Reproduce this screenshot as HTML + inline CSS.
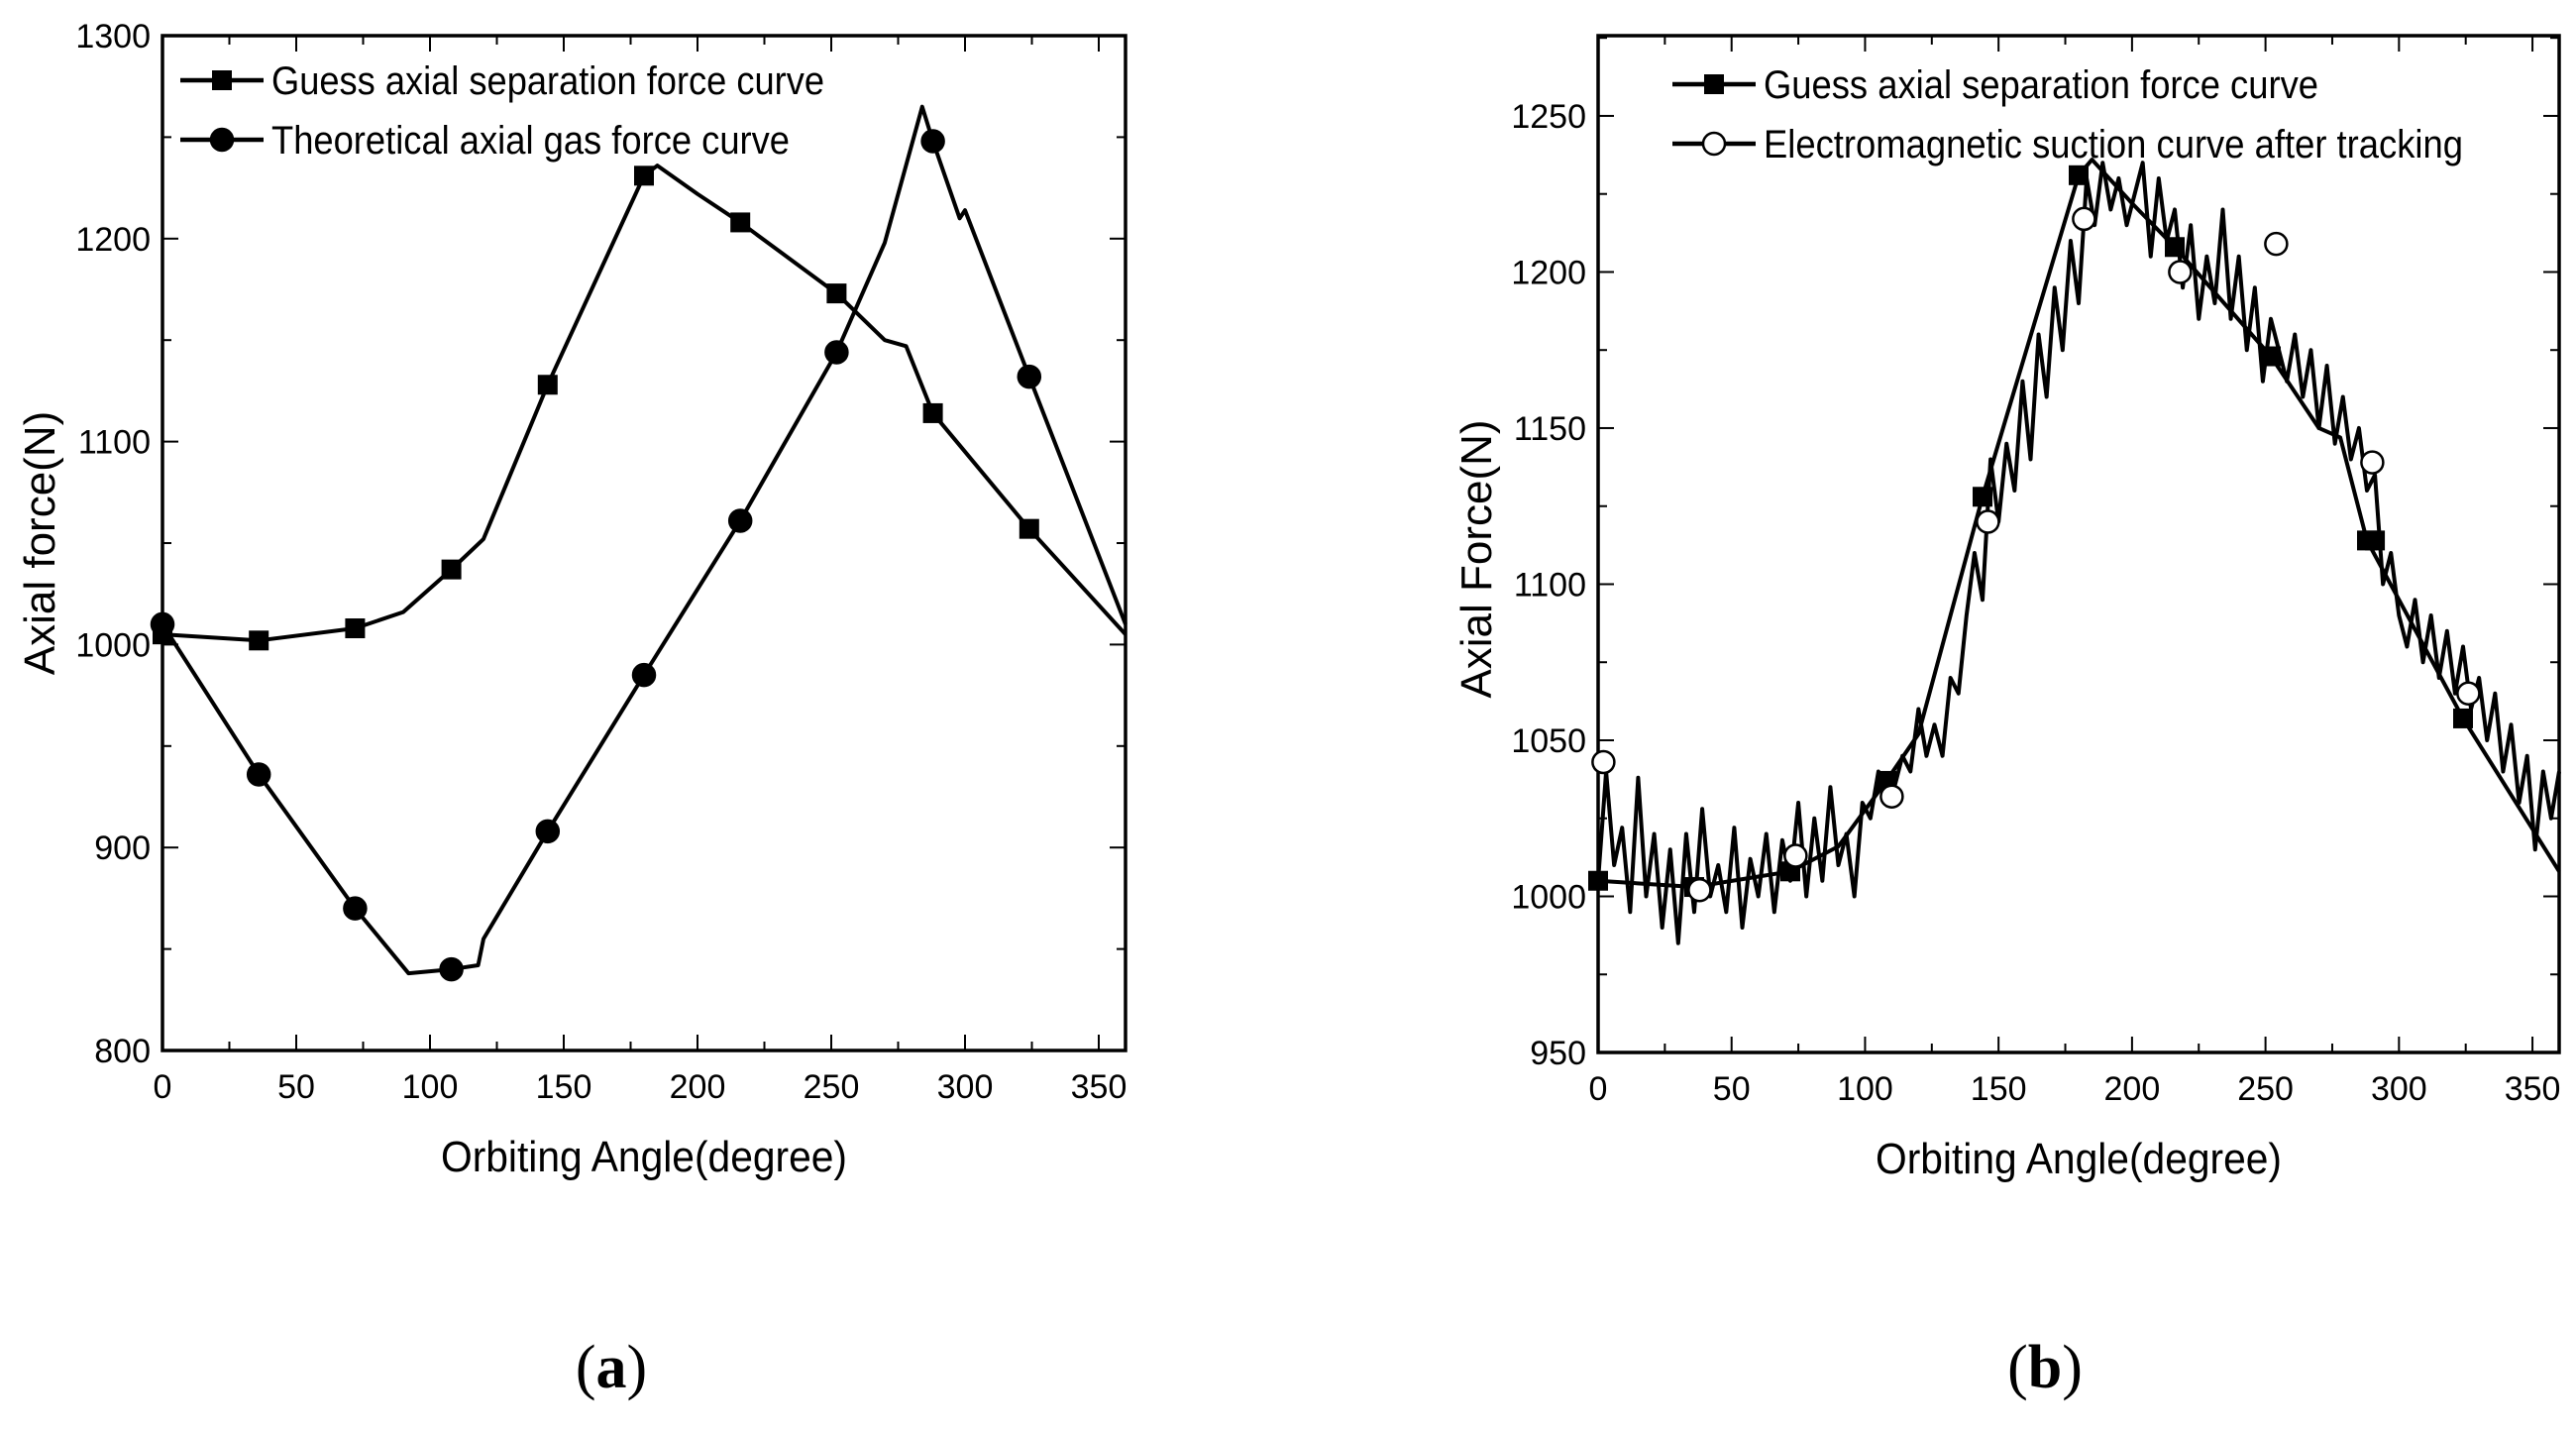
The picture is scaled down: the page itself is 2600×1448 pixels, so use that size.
<!DOCTYPE html>
<html><head><meta charset="utf-8"><style>
html,body{margin:0;padding:0;background:#fff;}
svg{display:block;font-family:"Liberation Sans",Arial,sans-serif;}
</style></head><body>
<svg id="s" width="2600" height="1448" viewBox="0 0 2600 1448"></svg>
<script>
// Panel (a) data
const aGuessX=[0,36,72,90,108,120,144,180,185,200,216,252,270,278,288,300,324,360];
const aGuessY=[1005,1002,1008,1016,1037,1052,1128,1231,1236,1222,1208,1173,1150,1147,1114,1095,1057,1005];
const aGuessMX=[0,36,72,108,144,180,216,252,288,324];
const aGuessMY=[1005,1002,1008,1037,1128,1231,1208,1173,1114,1057];
const aGasX=[0,36,72,92,108,118,120,144,180,216,252,270,284,288,298,300,324,360];
const aGasY=[1010,936,870,838,840,842,855,908,985,1061,1144,1198,1265,1248,1210,1214,1132,1010];
const aGasMX=[0,36,72,108,144,180,216,252,288,324];
const aGasMY=[1010,936,870,840,908,985,1061,1144,1248,1132];
// Panel (b) data
const bGuessX=[0,36,72,90,108,120,144,180,185,200,216,252,270,278,288,300,324,360];
const bGuessY=[1005,1003,1008,1016,1037,1052,1128,1231,1236,1222,1208,1173,1150,1147,1114,1095,1057,1008];
const bGuessMX=[0,36,72,108,144,180,216,252,288,291,324];
const bGuessMY=[1005,1003,1008,1037,1128,1231,1208,1173,1114,1114,1057];
const bNoisyY=[1005,1040,1010,1022,995,1038,1000,1020,990,1015,985,1020,995,1028,1000,1010,995,1022,990,1012,1000,1020,995,1018,1005,1030,1000,1025,1005,1035,1010,1020,1000,1030,1025,1040,1030,1035,1045,1040,1060,1045,1055,1045,1070,1065,1090,1110,1095,1140,1120,1145,1130,1165,1140,1180,1160,1195,1175,1210,1190,1230,1215,1235,1220,1230,1215,1225,1235,1205,1230,1210,1220,1195,1215,1185,1205,1190,1220,1185,1205,1175,1195,1165,1185,1175,1165,1180,1160,1175,1150,1170,1145,1160,1140,1150,1130,1135,1100,1110,1090,1080,1095,1075,1090,1070,1085,1065,1080,1060,1070,1050,1065,1040,1055,1030,1045,1015,1040,1025,1040];
const bNoisyStep=3;
const bCircX=[2,38,74,110,146,182,218,254,290,326];
const bCircY=[1043,1002,1013,1032,1120,1217,1200,1209,1139,1065];

const svg=document.getElementById('s');
const NS='http://www.w3.org/2000/svg';
function mk(tag,attrs,parent){const e=document.createElementNS(NS,tag);for(const k in attrs)e.setAttribute(k,attrs[k]);(parent||svg).appendChild(e);return e;}

function panel(o){
  const g=mk('g',{});
  
  
  const X=v=>o.x0+(v-0)/360*(o.x1-o.x0);
  const Y=v=>o.yb+(v-o.ymin)/(o.ymax-o.ymin)*(o.yt-o.yb);
  const fr=mk('rect',{x:o.x0,y:o.yt,width:o.x1-o.x0,height:o.yb-o.yt,fill:'none',stroke:'#000','stroke-width':3.5},g);
  
  
  for(let v=0;v<=360;v+=25){const L=(v%50===0)?16:9;
    mk('line',{x1:X(v),x2:X(v),y1:o.yb,y2:o.yb-L,stroke:'#000','stroke-width':2},g);
    mk('line',{x1:X(v),x2:X(v),y1:o.yt,y2:o.yt+L,stroke:'#000','stroke-width':2},g);
    if(v%50===0){const t=mk('text',{x:X(v),y:o.yb+48,'text-anchor':'middle','font-size':34},g);t.textContent=v;
      
      }
  }
  for(let v=o.ymin;v<=o.ymaxTick;v+=o.minor){const maj=((v-o.ymin)%o.major===0);const L=maj?16:9;
    mk('line',{x1:o.x0,x2:o.x0+L,y1:Y(v),y2:Y(v),stroke:'#000','stroke-width':2},g);
    mk('line',{x1:o.x1,x2:o.x1-L,y1:Y(v),y2:Y(v),stroke:'#000','stroke-width':2},g);
    if(maj){const t=mk('text',{x:o.x0-12,y:Y(v)+12,'text-anchor':'end','font-size':34},g);t.textContent=v;
      
      }
  }
  const xt=mk('text',{x:(o.x0+o.x1)/2,y:o.yb+122,'text-anchor':'middle','font-size':44,textLength:410,lengthAdjust:'spacingAndGlyphs'},g);xt.textContent='Orbiting Angle(degree)';
  
  
  const yt=mk('text',{x:0,y:0,'text-anchor':'middle','font-size':44,transform:`translate(${o.ytx},${o.yty}) rotate(-90)`},g);yt.textContent=o.ytitle;
  
  
  const pl=(xs,ys,nm)=>{const p=mk('polyline',{points:xs.map((x,i)=>X(x)+','+Y(ys[i])).join(' '),fill:'none',stroke:'#000','stroke-width':4,'stroke-linejoin':'round'},g);
    
    };
  o.lines.forEach(l=>pl(l.x,l.y,l.name));
  o.marks.forEach(m=>m.x.forEach((x,i)=>{
    let e;
    if(m.type==='sq')e=mk('rect',{x:X(x)-10,y:Y(m.y[i])-10,width:20,height:20,fill:'#000'},g);
    else e=mk('circle',{cx:X(x),cy:Y(m.y[i]),r:11,fill:m.type==='oc'?'#fff':'#000',stroke:'#000','stroke-width':2.5},g);
    
    
  }));
  o.legend.forEach((l,i)=>{const yy=o.ly+i*60;
    mk('line',{x1:o.lx,x2:o.lx+84,y1:yy,y2:yy,stroke:'#000','stroke-width':4.5},g);
    let e;
    if(l.type==='sq')e=mk('rect',{x:o.lx+32,y:yy-10,width:20,height:20,fill:'#000'},g);
    else e=mk('circle',{cx:o.lx+42,cy:yy,r:11,fill:l.type==='oc'?'#fff':'#000',stroke:'#000','stroke-width':2.5},g);
    
    
    const t=mk('text',{x:o.lx+92,y:yy+14,'font-size':40,textLength:l.len,lengthAdjust:'spacingAndGlyphs'},g);t.textContent=l.text;
    
    
  });
  const lab=mk('text',{x:o.labx,y:1400,'text-anchor':'middle','font-size':62,'font-family':'Liberation Serif, serif'},g);
  lab.innerHTML='(<tspan font-weight="bold">'+o.label+'</tspan>)';
  
  
}
const bnx=bNoisyY.map((v,i)=>i*bNoisyStep);
panel({name:'chart-a',x0:164,x1:1136,yt:36,yb:1060,ymin:800,ymax:1300,ymaxTick:1300,major:100,minor:50,ytitle:'Axial force(N)',ytx:55,yty:548,label:'a',labx:617,
  lines:[{x:aGuessX,y:aGuessY,name:'guess-force-line'},{x:aGasX,y:aGasY,name:'gas-force-line'}],
  marks:[{x:aGuessMX,y:aGuessMY,type:'sq',name:'guess-force-point'},{x:aGasMX,y:aGasMY,type:'c',name:'gas-force-point'}],
  lx:182,ly:81,legend:[{type:'sq',text:'Guess axial separation force curve',len:558},{type:'c',text:'Theoretical axial gas force curve',len:523}]});
panel({name:'chart-b',x0:1613,x1:2583,yt:36,yb:1062,ymin:950,ymax:1275.7,ymaxTick:1275,major:50,minor:25,ytitle:'Axial Force(N)',ytx:1505,yty:564,label:'b',labx:2064,
  lines:[{x:bGuessX,y:bGuessY,name:'guess-force-line'},{x:bnx,y:bNoisyY,name:'electromagnetic-suction-line'}],
  marks:[{x:bGuessMX,y:bGuessMY,type:'sq',name:'guess-force-point'},{x:bCircX,y:bCircY,type:'oc',name:'suction-point'}],
  lx:1688,ly:85,legend:[{type:'sq',text:'Guess axial separation force curve',len:560},{type:'oc',text:'Electromagnetic suction curve after tracking',len:706}]});
</script>
</body></html>
